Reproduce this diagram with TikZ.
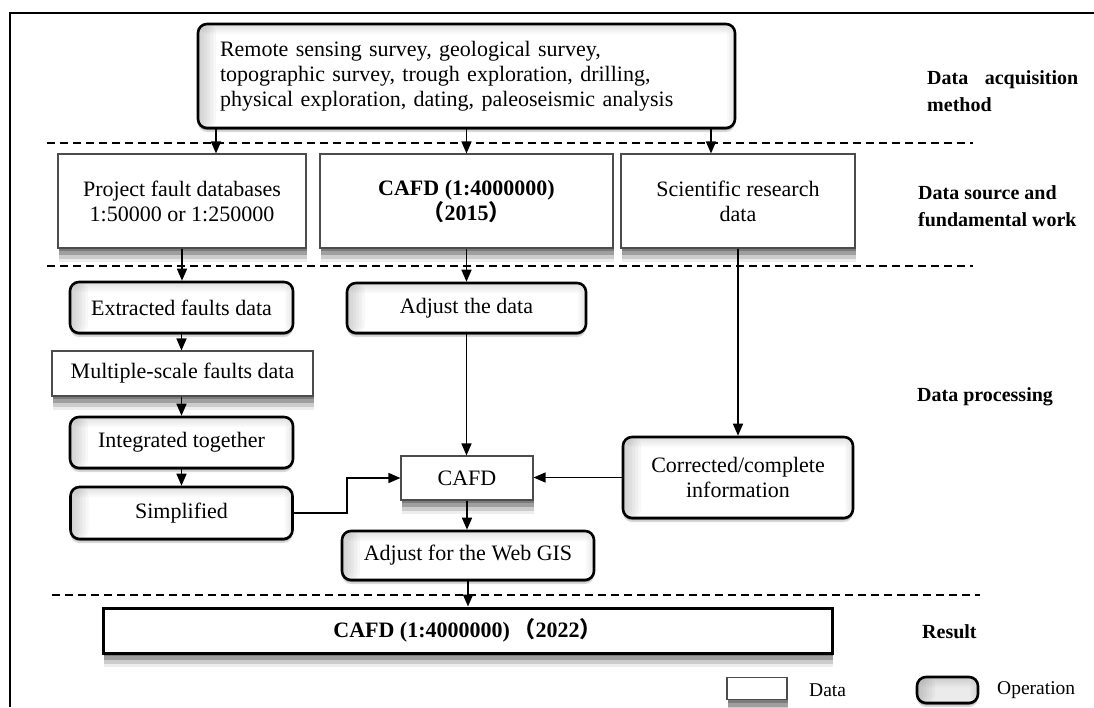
\documentclass[tikz,border=0pt]{standalone}
\usepackage{fontspec}
\setmainfont{Liberation Serif}
\newfontfamily\cjkfont{Noto Sans CJK SC}
\usetikzlibrary{arrows.meta,shadows,calc}
\begin{document}
\begin{tikzpicture}[x=1pt,y=-1pt,
  every node/.style={font=\fontsize{22}{25}\selectfont, inner sep=0pt, align=center},
  softshadow/.style={
    drop shadow={shadow xshift=1pt, shadow yshift=-3pt, fill=black, opacity=.22},
    drop shadow={shadow xshift=1pt, shadow yshift=-7pt, fill=black, opacity=.22},
    drop shadow={shadow xshift=1pt, shadow yshift=-11pt, fill=black, opacity=.14},
    drop shadow={shadow xshift=1pt, shadow yshift=-14pt, fill=black, opacity=.07}},
  opshadow/.style={
    drop shadow={shadow xshift=0pt, shadow yshift=-2pt, fill=black, opacity=.35},
    drop shadow={shadow xshift=0pt, shadow yshift=-4pt, fill=black, opacity=.15}},
  opshade/.style={path picture={
    \foreach \w in {3,6,...,18}
      \fill[black, opacity=.03] (path picture bounding box.north west) rectangle ([xshift=\w pt]path picture bounding box.south west);
    \foreach \h in {2,4,...,10}
      \fill[black, opacity=.025] (path picture bounding box.north west) rectangle ([yshift=-\h pt]path picture bounding box.north east);
    \foreach \w in {2,4,...,8}
      \fill[black, opacity=.025] (path picture bounding box.north east) rectangle ([xshift=-\w pt]path picture bounding box.south east);}},
  databox/.style={draw=black!70, line width=1.1pt, fill=white, softshadow},
  opbox/.style={draw=black, line width=2.6pt, rounded corners=9pt, fill=white, opshadow, opshade},
  resbox/.style={draw=black, line width=3pt, fill=white, softshadow},
  arr/.style={line width=1.6pt, -{Triangle[length=12pt,width=10pt]}},
  sepline/.style={line width=1.6pt, dash pattern=on 8pt off 5pt},
  lab/.style={font=\fontsize{20}{27}\selectfont\bfseries, anchor=west, align=left},
  legtext/.style={font=\fontsize{19.5}{22}\selectfont, anchor=west},
]
\useasboundingbox (0,0) rectangle (1094,707);
% frame
\draw[line width=2pt] (10,707) -- (10,13) -- (1094,13);
% separators
\draw[sepline] (47,143) -- (973,143);
\draw[sepline] (47,266) -- (973,266);
\draw[sepline] (52,595) -- (980,595);

% nodes
\node[opbox, minimum width=537pt, minimum height=104pt, text width=493pt, align=left] (acq) at (466.5,76)
  {Remote sensing survey, geological survey,\\topographic survey, trough exploration, drilling,\\physical exploration, dating, paleoseismic analysis};

\node[databox, minimum width=248pt, minimum height=94pt] (proj) at (182,201)
  {Project fault databases\\1:50000 or 1:250000};
\node[databox, minimum width=293pt, minimum height=94pt, font=\fontsize{22}{25}\selectfont\bfseries] (cafdA) at (466.5,201)
  {CAFD (1:4000000)\\{\cjkfont （}2015{\cjkfont ）}};
\node[databox, minimum width=234pt, minimum height=94pt] (sci) at (738,201)
  {Scientific research\\data};

\node[opbox, minimum width=223pt, minimum height=51pt] (ext) at (181.5,307.5) {Extracted faults data};
\node[opbox, minimum width=239pt, minimum height=50pt] (adj) at (466.5,308) {Adjust the data};
\node[databox, minimum width=261pt, minimum height=45pt] (mult) at (182.5,373.5) {Multiple-scale faults data};
\node[opbox, minimum width=223pt, minimum height=51pt] (integ) at (181.5,442.5) {Integrated together};
\node[opbox, minimum width=222pt, minimum height=52pt] (simp) at (181.5,513) {Simplified};
\node[databox, minimum width=132pt, minimum height=44pt] (cafd) at (467,478) {CAFD};
\node[opbox, minimum width=230pt, minimum height=81pt] (corr) at (738,477.5) {Corrected/complete\\information};
\node[opbox, minimum width=252pt, minimum height=49pt] (web) at (468,555.5) {Adjust for the Web GIS};
\node[resbox, minimum width=729pt, minimum height=45pt, font=\fontsize{22}{25}\selectfont\bfseries] (res) at (467.5,630.5)
  {CAFD (1:4000000)\,{\cjkfont （}2022{\cjkfont ）}};

% right labels
\node[lab] (l1) at (927,91.5) {\makebox[151pt][s]{Data acquisition}\\method};
\node[lab] (l2) at (918,206) {Data source and\\fundamental work};
\node[lab] (l3) at (917,397) {Data processing};
\node[lab] (l4) at (922,632) {Result};

% legend
\node[databox, minimum width=60pt, minimum height=22pt] (legd) at (757,688.5) {};
\node[legtext] (legdt) at (809,690) {Data};
\node[opbox, minimum width=61pt, minimum height=26pt, fill=black!8] (lego) at (947.5,690) {};
\node[legtext] (legot) at (997,690) {Operation};

% connectors
\coordinate (c1) at (216,0);
\coordinate (c3) at (711,0);
\coordinate (bend) at (347,0);
\draw[arr] (acq.south -| c1) -- (proj.north -| c1);
\draw[arr] (acq.south -| cafdA.north) -- (cafdA.north);
\draw[arr] (acq.south -| c3) -- (sci.north -| c3);
\draw[arr] (proj.south) -- (proj.south |- ext.north);
\draw[arr] (cafdA.south) -- (cafdA.south |- adj.north);
\draw[arr] (sci.south) -- (sci.south |- corr.north);
\draw[arr] (ext.south) -- (ext.south |- mult.north);
\draw[arr] (ext.south |- mult.south) -- (integ.north);
\draw[arr] (integ.south) -- (simp.north);
\draw[arr] (adj.south) -- (adj.south |- cafd.north);
\draw[arr, line width=1.4pt] (simp.east) -- (simp.east -| bend) |- (cafd.west);
\draw[arr, line width=1.4pt] (corr.west) -- (corr.west -| cafd.east);
\draw[arr] (cafd.south) -- (cafd.south |- web.north);
\draw[arr] (web.south) -- (web.south |- res.north);
\end{tikzpicture}
\end{document}
